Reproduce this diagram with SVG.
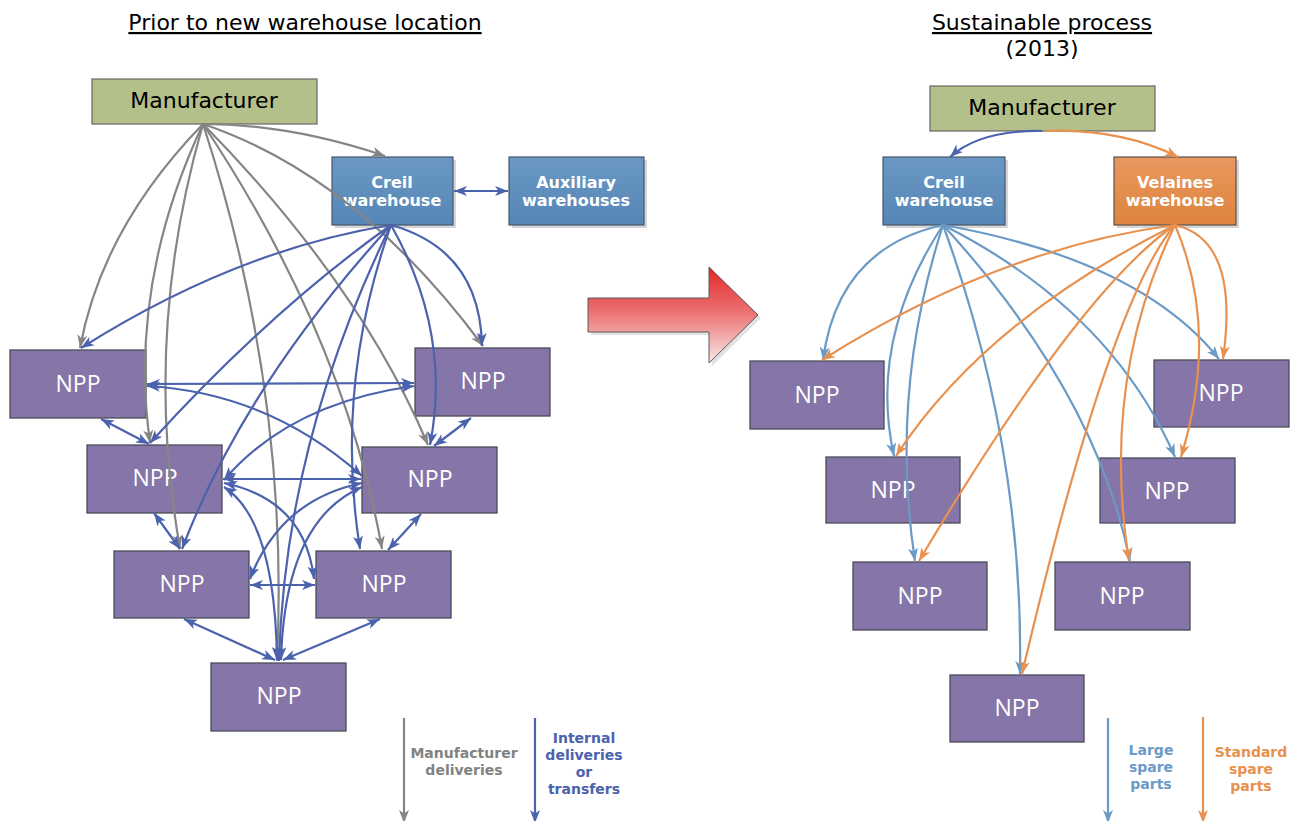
<svg xmlns="http://www.w3.org/2000/svg" width="1298" height="821" viewBox="0 0 1298 821">
  <defs>
    <linearGradient id="g-creil" x1="0" y1="0" x2="0" y2="1">
      <stop offset="0" stop-color="#6b98c3"/>
      <stop offset="1" stop-color="#5586b7"/>
    </linearGradient>
    <linearGradient id="g-vel" x1="0" y1="0" x2="0" y2="1">
      <stop offset="0" stop-color="#e8985f"/>
      <stop offset="1" stop-color="#de843e"/>
    </linearGradient>
    <linearGradient id="g-red" x1="0" y1="0" x2="0" y2="1">
      <stop offset="0" stop-color="#e42628"/>
      <stop offset="0.45" stop-color="#eb6e6e"/>
      <stop offset="1" stop-color="#f9e8e8"/>
    </linearGradient>
    <marker id="ah-gray" viewBox="0 0 13 11" refX="13" refY="5.5" markerWidth="13" markerHeight="11" markerUnits="userSpaceOnUse" orient="auto-start-reverse">
      <path d="M0,0.5 L13,5.5 L0,10.5 L3.5,5.5 Z" fill="#858585"/>
    </marker>
    <marker id="ah-blue" viewBox="0 0 13 11" refX="13" refY="5.5" markerWidth="13" markerHeight="11" markerUnits="userSpaceOnUse" orient="auto-start-reverse">
      <path d="M0,0.5 L13,5.5 L0,10.5 L3.5,5.5 Z" fill="#4b62ad"/>
    </marker>
    <marker id="ah-lblue" viewBox="0 0 13 11" refX="13" refY="5.5" markerWidth="13" markerHeight="11" markerUnits="userSpaceOnUse" orient="auto-start-reverse">
      <path d="M0,0.5 L13,5.5 L0,10.5 L3.5,5.5 Z" fill="#6b9ac6"/>
    </marker>
    <marker id="ah-orange" viewBox="0 0 13 11" refX="13" refY="5.5" markerWidth="13" markerHeight="11" markerUnits="userSpaceOnUse" orient="auto-start-reverse">
      <path d="M0,0.5 L13,5.5 L0,10.5 L3.5,5.5 Z" fill="#e8914f"/>
    </marker>
  </defs>
  <style>
    .title { font-family: "DejaVu Sans", Verdana, sans-serif; font-size: 22px; fill: #000; text-anchor: middle; }
    .mfr rect { fill: #b4c089; stroke: #666; stroke-width: 1.2; }
    .mfr text { font-family: "DejaVu Sans", Verdana, sans-serif; font-size: 22px; fill: #000; text-anchor: middle; }
    .wh rect.body { stroke: #46576a; stroke-width: 1.2; }
    .wh rect.shadow { fill: #d6d6d6; }
    .wh text { font-family: "DejaVu Sans", Verdana, sans-serif; font-weight: bold; font-size: 16px; fill: #fff; text-anchor: middle; }
    .npp rect { fill: #8675a8; stroke: #4b4b58; stroke-width: 1.3; }
    .npp text { font-family: "Open Sans", "DejaVu Sans", sans-serif; font-size: 23px; fill: #fff; text-anchor: middle; }
    .lg { font-family: "DejaVu Sans", Verdana, sans-serif; font-weight: bold; font-size: 14px; text-anchor: middle; }
    path.c { fill: none; stroke-width: 2.2; }
    .gray { stroke: #858585; marker-end: url(#ah-gray); }
    .blue { stroke: #4b62ad; marker-end: url(#ah-blue); }
    .blue2 { stroke: #4b62ad; marker-end: url(#ah-blue); marker-start: url(#ah-blue); }
    .lblue { stroke: #6b9ac6; marker-end: url(#ah-lblue); }
    .orange { stroke: #e8914f; marker-end: url(#ah-orange); }
  </style>

  <rect width="1298" height="821" fill="#fff"/>

  <!-- headings -->
  <text class="title" x="305" y="30" text-decoration="underline">Prior to new warehouse location</text>
  <text class="title" x="1042" y="30" text-decoration="underline">Sustainable process</text>
  <text class="title" x="1042" y="56">(2013)</text>

  <!-- transition arrow -->
  <g id="transition-arrow">
    <polygon points="591,301 712,301 712,270 761,318 712,366 712,335 591,335" fill="#cfcfcf" opacity="0.6"/>
    <polygon points="588,298 709,298 709,267 758,315 709,363 709,332 588,332" fill="url(#g-red)" stroke="#5a5a5a" stroke-width="1"/>
  </g>

  <!-- ===== before: nodes ===== -->
  <g id="mfr-before" class="mfr">
    <rect x="92" y="79" width="225" height="45"/>
    <text x="204" y="108">Manufacturer</text>
  </g>
  <g id="creil-before" class="wh">
    <rect class="shadow" x="335" y="160" width="121" height="68"/>
    <rect class="body" x="332" y="157" width="121" height="68" fill="url(#g-creil)"/>
    <text x="392" y="188">Creil</text>
    <text x="392" y="206">warehouse</text>
  </g>
  <g id="aux-before" class="wh">
    <rect class="shadow" x="512" y="160" width="135" height="68"/>
    <rect class="body" x="509" y="157" width="135" height="68" fill="url(#g-creil)"/>
    <text x="576" y="188">Auxiliary</text>
    <text x="576" y="206">warehouses</text>
  </g>
  <g id="npp-b1" class="npp"><rect x="10" y="350" width="136" height="68"/><text x="78" y="392">NPP</text></g>
  <g id="npp-b2" class="npp"><rect x="415" y="348" width="135" height="68"/><text x="483" y="389">NPP</text></g>
  <g id="npp-b3" class="npp"><rect x="87" y="445" width="135" height="68"/><text x="155" y="486">NPP</text></g>
  <g id="npp-b4" class="npp"><rect x="362" y="447" width="135" height="66"/><text x="430" y="487">NPP</text></g>
  <g id="npp-b5" class="npp"><rect x="114" y="551" width="135" height="67"/><text x="182" y="592">NPP</text></g>
  <g id="npp-b6" class="npp"><rect x="316" y="551" width="135" height="67"/><text x="384" y="592">NPP</text></g>
  <g id="npp-b7" class="npp"><rect x="211" y="663" width="135" height="68"/><text x="279" y="704">NPP</text></g>

  <!-- ===== after: nodes ===== -->
  <g id="mfr-after" class="mfr">
    <rect x="930" y="86" width="225" height="45"/>
    <text x="1042" y="115">Manufacturer</text>
  </g>
  <g id="creil-after" class="wh">
    <rect class="shadow" x="886" y="160" width="122" height="68"/>
    <rect class="body" x="883" y="157" width="122" height="68" fill="url(#g-creil)"/>
    <text x="944" y="188">Creil</text>
    <text x="944" y="206">warehouse</text>
  </g>
  <g id="velaines-after" class="wh">
    <rect class="shadow" x="1117" y="160" width="122" height="68"/>
    <rect class="body" x="1114" y="157" width="122" height="68" fill="url(#g-vel)" style="stroke:#5c5048"/>
    <text x="1175" y="188">Velaines</text>
    <text x="1175" y="206">warehouse</text>
  </g>
  <g id="npp-a1" class="npp"><rect x="750" y="361" width="134" height="68"/><text x="817" y="403">NPP</text></g>
  <g id="npp-a2" class="npp"><rect x="1154" y="360" width="135" height="67"/><text x="1221" y="401">NPP</text></g>
  <g id="npp-a3" class="npp"><rect x="826" y="457" width="134" height="66"/><text x="893" y="498">NPP</text></g>
  <g id="npp-a4" class="npp"><rect x="1100" y="458" width="135" height="65"/><text x="1167" y="499">NPP</text></g>
  <g id="npp-a5" class="npp"><rect x="853" y="562" width="134" height="68"/><text x="920" y="604">NPP</text></g>
  <g id="npp-a6" class="npp"><rect x="1055" y="562" width="135" height="68"/><text x="1122" y="604">NPP</text></g>
  <g id="npp-a7" class="npp"><rect x="950" y="675" width="134" height="67"/><text x="1017" y="716">NPP</text></g>

  <!-- ===== connectors ===== -->
  <g id="connectors">
    <!-- before: manufacturer deliveries -->
    <path class="c gray" d="M203,124 Q290,124 385,156"/>
    <path class="c gray" d="M203,124 Q102,228 80,348"/>
    <path class="c gray" d="M203,124 Q128,284 150,443"/>
    <path class="c gray" d="M203,124 Q142,336 180,548"/>
    <path class="c gray" d="M203,124 Q290,392 277,661"/>
    <path class="c gray" d="M203,124 Q344,336 382,549"/>
    <path class="c gray" d="M203,124 Q360,284 428,445"/>
    <path class="c gray" d="M203,124 Q357,176 483,346"/>

    <!-- before: Creil to plants -->
    <path class="c blue" d="M391,225 Q236,250 81,348"/>
    <path class="c blue" d="M391,225 Q270,311 150,443"/>
    <path class="c blue" d="M391,225 Q244,386 182,549"/>
    <path class="c blue" d="M391,225 Q285,442 279,661"/>
    <path class="c blue" d="M391,225 Q334,386 360,549"/>
    <path class="c blue" d="M391,225 Q452,333 430,445"/>
    <path class="c blue" d="M391,225 Q480,250 482,346"/>
    <path class="c blue2" d="M454,191 L508,191"/>

    <!-- before: transfers between plants -->
    <path class="c blue2" d="M147,384 L414,383"/>
    <path class="c blue2" d="M147,386 Q269,393 362,476"/>
    <path class="c blue2" d="M414,386 Q290,403 224,480"/>
    <path class="c blue2" d="M223,479 L361,479"/>
    <path class="c blue2" d="M224,483 Q305,500 314,579"/>
    <path class="c blue2" d="M362,483 Q280,500 250,579"/>
    <path class="c blue2" d="M224,487 Q275,520 277,660"/>
    <path class="c blue2" d="M362,487 Q285,520 281,660"/>
    <path class="c blue2" d="M101,419 L149,444"/>
    <path class="c blue2" d="M471,418 L434,446"/>
    <path class="c blue2" d="M154,513 L180,549"/>
    <path class="c blue2" d="M421,514 L388,550"/>
    <path class="c blue2" d="M184,619 L275,660"/>
    <path class="c blue2" d="M380,619 L283,660"/>
    <path class="c blue2" d="M250,585 L315,585"/>

    <!-- after: manufacturer to warehouses -->
    <path class="c blue" d="M1042,131 Q980,130 950,157"/>
    <path class="c orange" d="M1045,131 Q1120,128 1178,157"/>

    <!-- after: large spare parts from Creil -->
    <path class="c lblue" d="M943,225 Q838,248 823,360"/>
    <path class="c lblue" d="M943,225 Q868,340 894,456"/>
    <path class="c lblue" d="M943,225 Q889,392 915,561"/>
    <path class="c lblue" d="M943,225 Q1024,448 1020,674"/>
    <path class="c lblue" d="M943,225 Q1096,392 1130,561"/>
    <path class="c lblue" d="M943,225 Q1111,310 1175,457"/>
    <path class="c lblue" d="M943,225 Q1140,260 1219,359"/>

    <!-- after: standard spare parts from Velaines -->
    <path class="c orange" d="M1175,225 Q999,248 822,360"/>
    <path class="c orange" d="M1175,225 Q985,320 896,456"/>
    <path class="c orange" d="M1175,225 Q1080,290 919,561"/>
    <path class="c orange" d="M1175,225 Q1110,300 1022,674"/>
    <path class="c orange" d="M1175,225 Q1100,380 1129,561"/>
    <path class="c orange" d="M1175,225 Q1220,330 1181,457"/>
    <path class="c orange" d="M1175,225 Q1240,240 1223,359"/>
  </g>

  <!-- legends -->
  <g id="legend-before">
    <path class="c gray" d="M404,718 L404,823"/>
    <text class="lg" x="464" y="758" fill="#828282">Manufacturer</text>
    <text class="lg" x="464" y="775" fill="#828282">deliveries</text>
    <path class="c blue" d="M535,718 L535,823"/>
    <text class="lg" x="584" y="743" fill="#4b62ad">Internal</text>
    <text class="lg" x="584" y="760" fill="#4b62ad">deliveries</text>
    <text class="lg" x="584" y="777" fill="#4b62ad">or</text>
    <text class="lg" x="584" y="794" fill="#4b62ad">transfers</text>
  </g>
  <g id="legend-after">
    <path class="c lblue" d="M1108,718 L1108,823"/>
    <text class="lg" x="1151" y="755" fill="#6b9ac6">Large</text>
    <text class="lg" x="1151" y="772" fill="#6b9ac6">spare</text>
    <text class="lg" x="1151" y="789" fill="#6b9ac6">parts</text>
    <path class="c orange" d="M1203,717 L1203,823"/>
    <text class="lg" x="1251" y="757" fill="#e8914f">Standard</text>
    <text class="lg" x="1251" y="774" fill="#e8914f">spare</text>
    <text class="lg" x="1251" y="791" fill="#e8914f">parts</text>
  </g>
</svg>
